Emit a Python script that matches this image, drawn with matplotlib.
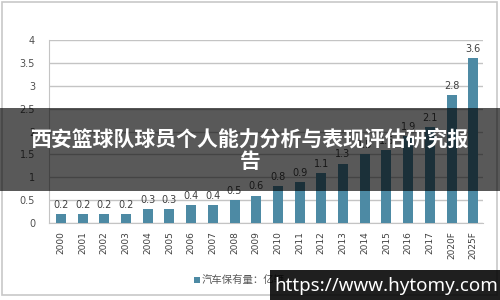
import matplotlib
matplotlib.use("Agg")
import matplotlib.pyplot as plt
from matplotlib.patches import Rectangle

categories = ["2000", "2001", "2002", "2003", "2004", "2005", "2006", "2007", "2008", "2009",
              "2010", "2011", "2012", "2013", "2014", "2015", "2016", "2017", "2020F", "2025F"]
values = [0.2, 0.2, 0.2, 0.2, 0.3, 0.3, 0.4, 0.4, 0.5, 0.6,
          0.8, 0.9, 1.1, 1.3, 1.5, 1.6, 1.9, 2.1, 2.8, 3.6]
yticks = [0, 0.5, 1, 1.5, 2, 2.5, 3, 3.5, 4]
ytick_labels = ["0", "0.5", "1", "1.5", "2", "2.5", "3", "3.5", "4"]
legend_label = "汽车保有量：亿辆"
title = "西安篮球队球员个人能力分析与表现评估研究报\n告"
watermark = "https://www.hytomy.com"

plt.rcParams['font.family'] = ['DejaVu Sans']
cjk = ['Noto Sans CJK SC', 'DejaVu Sans']

W, H = 500, 300
fig = plt.figure(figsize=(5, 3), dpi=100)
fig.patch.set_facecolor("white")

# outer frame
fig.add_artist(Rectangle((2 / W, 5 / H), 495 / W, 293 / H, transform=fig.transFigure,
                         fill=False, edgecolor="#c8c8c8", linewidth=1.2))

ax = fig.add_axes([49 / W, (H - 223) / H, (483 - 49) / W, (223 - 40) / H])
x = list(range(len(categories)))
bar_color = "#4d8aa4"
ax.bar(x, values, width=0.46, color=bar_color, zorder=3)
ax.set_xlim(-0.55, len(categories) - 0.55)
ax.set_ylim(0, 4)
ax.set_yticks(yticks)
ax.set_yticklabels(ytick_labels, fontsize=7, color="#505050")
ax.set_xticks(x)
ax.set_xticklabels(categories, rotation=90, fontsize=6.5, color="#404040")
ax.tick_params(axis="both", length=0)
ax.tick_params(axis="y", pad=10)
ax.tick_params(axis="x", pad=6)
ax.grid(axis="y", color="#c4c4c4", linewidth=1.0, zorder=0)
for s in ["top", "right"]:
    ax.spines[s].set_visible(False)
ax.spines["left"].set_color("#c4c4c4")
ax.spines["bottom"].set_color("#c4c4c4")

for xi, v in zip(x, values):
    ax.annotate(f"{v:g}", (xi, v), xytext=(0, 3), textcoords="offset points",
                ha="center", va="bottom", fontsize=7, color="#404040", zorder=4)

# legend
fig.add_artist(Rectangle((194 / W, (H - 283) / H), 6 / W, 6 / H, transform=fig.transFigure,
                         facecolor=bar_color, edgecolor="none"))
fig.text(202 / W, (H - 280) / H, legend_label, fontsize=7.5, color="#595959",
         family=cjk, ha="left", va="center")

# title band
fig.add_artist(Rectangle((0, (H - 191) / H), 1, 83 / H, transform=fig.transFigure,
                         facecolor="black", alpha=0.65, edgecolor="none", zorder=10))
fig.text(0.5, (H - 150) / H, title, fontsize=15, color="white", weight="bold",
         family=cjk, ha="center", va="center", linespacing=1.1, zorder=11)

# watermark
fig.add_artist(Rectangle((270 / W, 0), 230 / W, 30 / H, transform=fig.transFigure,
                         facecolor="black", alpha=0.88, edgecolor="none", zorder=10))
fig.text(386 / W, 14 / H, watermark, fontsize=13.5, color="white", weight="bold",
         family=['Noto Sans', 'DejaVu Sans'], ha="center", va="center", zorder=11)

fig.savefig("out.png", dpi=100)
